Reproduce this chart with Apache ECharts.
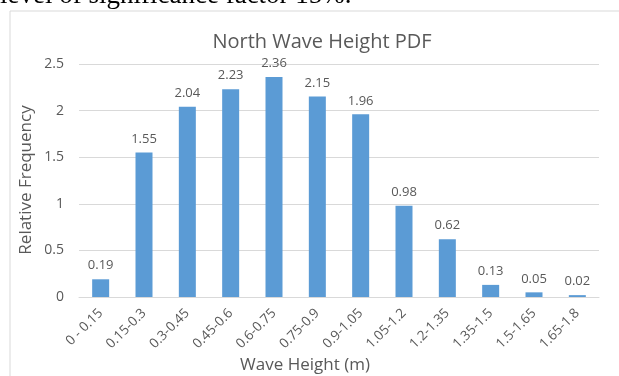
<!DOCTYPE html>
<html><head><meta charset="utf-8">
<script src="https://cdn.jsdelivr.net/npm/echarts@6/dist/echarts.min.js"></script>
<style>html,body{margin:0;padding:0;background:#fff}#c{width:619px;height:376px}</style>
</head><body><div id="c"></div>
<script>
var categories = ['0 - 0.15','0.15-0.3','0.3-0.45','0.45-0.6','0.6-0.75','0.75-0.9','0.9-1.05','1.05-1.2','1.2-1.35','1.35-1.5','1.5-1.65','1.65-1.8'];
var values = [0.19,1.55,2.04,2.23,2.36,2.15,1.96,0.98,0.62,0.13,0.05,0.02];
var yTicks = [0, 0.5, 1, 1.5, 2, 2.5];
var titleText = 'North Wave Height PDF';
var xTitle = 'Wave Height (m)';
var yTitle = 'Relative Frequency';
var captionText = 'level of significance factor 15%.';

var font = '"Open Sans", "Liberation Sans", sans-serif';
var grey = '#595959';
var chart = echarts.init(document.getElementById('c'));
chart.setOption({
  animation: false,
  title: {text: titleText, left: 317, textAlign: 'center', top: 27,
    textStyle: {fontFamily: font, fontSize: 20, fontWeight: 'normal', color: grey}},
  graphic: [
    {type: 'rect', shape: {x: 10, y: 11, width: 700, height: 500}, style: {fill: 'none', stroke: '#d9d9d9', lineWidth: 1}, silent: true},
    {type: 'text', left: 0, top: -18, style: {text: captionText, font: '27px "Liberation Serif", serif', fill: '#000'}},
    {type: 'text', x: 305, y: 365, style: {text: xTitle, font: '17px ' + font, fill: grey, textAlign: 'center', textVerticalAlign: 'middle'}},
    {type: 'text', x: 26, y: 180, rotation: Math.PI/2, style: {text: yTitle, font: '17px ' + font, fill: grey, textAlign: 'center', textVerticalAlign: 'middle'}}
  ],
  grid: {left: 79, right: 20, top: 64, bottom: 79, containLabel: false},
  xAxis: {type: 'category', data: categories,
    axisLine: {lineStyle: {color: '#d9d9d9'}}, axisTick: {show: false},
    axisLabel: {rotate: 45, interval: 0, color: grey, fontFamily: font, fontSize: 13.5, margin: 14}},
  yAxis: {type: 'value', min: yTicks[0], max: yTicks[yTicks.length-1], interval: 0.5,
    axisLine: {show: false}, axisTick: {show: false},
    splitLine: {lineStyle: {color: '#d9d9d9'}},
    axisLabel: {color: grey, fontFamily: font, fontSize: 14, margin: 15,
      formatter: function(v){ return yTicks.indexOf(v) >= 0 ? String(v) : ''; }}},
  series: [{type: 'bar', data: values, barWidth: 17,
    itemStyle: {color: '#5b9bd5'},
    label: {show: true, position: 'top', distance: 7, color: grey, fontFamily: font, fontSize: 13,
      formatter: function(p){ return p.value.toFixed(2); }}}]
});
</script></body></html>
